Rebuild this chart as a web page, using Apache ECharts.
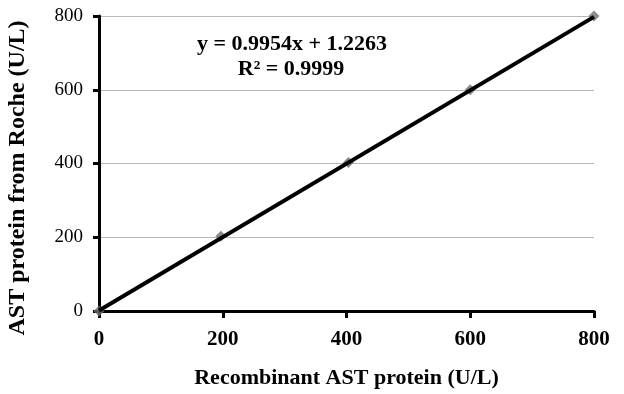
<!DOCTYPE html>
<html><head><meta charset="utf-8">
<script src="https://cdn.jsdelivr.net/npm/echarts@6/dist/echarts.min.js"></script>
<style>html,body{margin:0;padding:0;background:#fff}#c{width:624px;height:394px}</style>
</head><body><div id="c"></div>
<script>
var xValues = [0, 197, 403, 600, 800];
var yValues = [0, 203, 403, 600, 800];
var trendX = [0, 800];
var trendY = [1.2263, 797.55];
var ticks = [0, 200, 400, 600, 800];
var eqText = ['y = 0.9954x + 1.2263', 'R\u00B2 = 0.9999'];
var xTitle = 'Recombinant AST protein (U/L)';
var yTitle = 'AST protein from Roche (U/L)';

var font = 'Liberation Serif';
var chart = echarts.init(document.getElementById('c'));
chart.setOption({
  animation: false,
  backgroundColor: '#fff',
  grid: {left: 99, right: 30, top: 16, bottom: 80},
  xAxis: {
    type: 'value', min: 0, max: 800, interval: 200,
    name: xTitle, nameLocation: 'middle', nameGap: 56,
    nameTextStyle: {fontFamily: font, fontWeight: 'bold', fontSize: 22, color: '#000'},
    axisLine: {show: true, lineStyle: {color: '#000', width: 3}},
    axisTick: {show: true, length: 7, lineStyle: {color: '#000', width: 3}},
    axisLabel: {fontFamily: font, fontWeight: 'bold', fontSize: 21, color: '#000', margin: 18},
    splitLine: {show: false}
  },
  yAxis: {
    type: 'value', min: 0, max: 800, interval: 200,
    axisLine: {show: true, lineStyle: {color: '#000', width: 3}},
    axisTick: {show: true, length: 6, lineStyle: {color: '#000', width: 3}},
    axisLabel: {fontFamily: font, fontSize: 19, color: '#000', margin: 16},
    splitLine: {show: true, lineStyle: {color: '#b8b8b8', width: 1}}
  },
  graphic: [
    {type: 'text', x: 292, y: 44, style: {text: eqText[0], align: 'center', verticalAlign: 'middle', fontFamily: font, fontWeight: 'bold', fontSize: 22, fill: '#000'}},
    {type: 'text', x: 291, y: 69, style: {text: eqText[1], align: 'center', verticalAlign: 'middle', fontFamily: font, fontWeight: 'bold', fontSize: 22, fill: '#000'}},
    {type: 'text', x: 18, y: 178, rotation: Math.PI / 2, style: {text: yTitle, align: 'center', verticalAlign: 'middle', fontFamily: font, fontWeight: 'bold', fontSize: 24, fill: '#000'}}
  ],
  series: [
    {type: 'line', data: trendX.map(function(x, i){return [x, trendY[i]];}),
     symbol: 'none', lineStyle: {color: '#000', width: 4}, z: 3},
    {type: 'scatter', data: xValues.map(function(x, i){return [x, yValues[i]];}),
     symbol: 'diamond', symbolSize: 11, itemStyle: {color: '#6e6e6e'}, z: 2}
  ]
});
</script></body></html>
